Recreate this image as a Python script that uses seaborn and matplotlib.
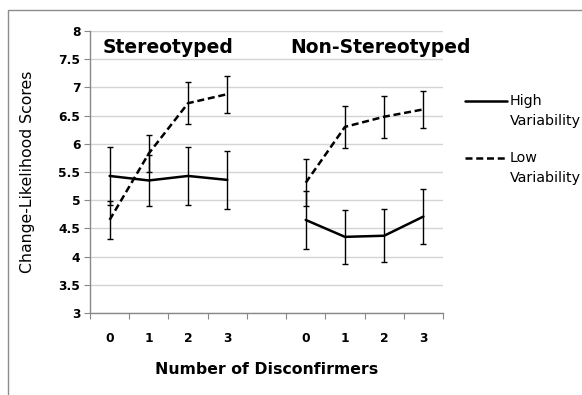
import matplotlib
matplotlib.use('Agg')
import matplotlib.pyplot as plt
from matplotlib.lines import Line2D
from matplotlib.patches import Rectangle
import pandas as pd
import seaborn as sns

# values
groups = ["Stereotyped", "Non-Stereotyped"]
disconfirmers = [0, 1, 2, 3]
variability = ["High Variability", "Low Variability"]

high_stereo = [5.43, 5.35, 5.43, 5.36]
high_stereo_err = [0.51, 0.46, 0.52, 0.52]
low_stereo = [4.65, 5.83, 6.72, 6.88]
low_stereo_err = [0.33, 0.33, 0.37, 0.33]

high_non = [4.65, 4.35, 4.37, 4.71]
high_non_err = [0.52, 0.48, 0.47, 0.49]
low_non = [5.31, 6.30, 6.48, 6.61]
low_non_err = [0.42, 0.37, 0.375, 0.33]

y_ticks = [3, 3.5, 4, 4.5, 5, 5.5, 6, 6.5, 7, 7.5, 8]


def build_frame():
	series = {
		("Stereotyped", "High Variability"): (high_stereo, high_stereo_err),
		("Stereotyped", "Low Variability"): (low_stereo, low_stereo_err),
		("Non-Stereotyped", "High Variability"): (high_non, high_non_err),
		("Non-Stereotyped", "Low Variability"): (low_non, low_non_err),
	}
	rows = []
	for (group, var), (vals, errs) in series.items():
		g = groups.index(group)
		for d, v, e in zip(disconfirmers, vals, errs):
			# one empty slot between the two groups
			rows.append({"group": group, "variability": var, "disc": d,
						 "pos": g * (len(disconfirmers) + 1) + d, "score": v, "err": e})
	return pd.DataFrame(rows)


def main():
	df = build_frame()

	sns.set_style("white")
	plt.rcParams['font.family'] = ['DejaVu Sans']
	plt.rcParams['text.color'] = 'black'
	plt.rcParams['axes.labelcolor'] = 'black'
	plt.rcParams['xtick.color'] = 'black'
	plt.rcParams['ytick.color'] = 'black'

	fig = plt.figure(figsize=(5.82, 3.95), dpi=100)
	ax = fig.add_axes([90 / 582, 1 - 313 / 395, 353 / 582, 282 / 395])

	for y in y_ticks:
		ax.axhline(y, color="#d4d4d4", lw=1, zorder=0)

	ax.errorbar(df["pos"], df["score"], yerr=df["err"], fmt="none",
				ecolor="black", elinewidth=1, capsize=2.3, capthick=1, zorder=2)

	sns.lineplot(data=df, x="pos", y="score", style="variability", units="group",
				 estimator=None, color="black", linewidth=1.8,
				 dashes={"High Variability": "", "Low Variability": (2.8, 1.5)},
				 legend=False, ax=ax, zorder=3)

	n_slots = len(groups) * (len(disconfirmers) + 1) - 1
	ax.set_xlim(-0.5, n_slots - 0.5)
	ax.set_ylim(3, 8)

	ax.set_yticks(y_ticks)
	ax.set_yticklabels([f"{t:g}" for t in y_ticks], fontsize=8.8, fontweight="bold")

	ax.set_xticks([i - 0.5 for i in range(n_slots + 1)])
	ax.set_xticklabels([])
	ax.set_xticks(df["pos"].unique(), minor=True)
	ax.set_xticklabels([str(d) for d in disconfirmers] * len(groups), minor=True,
					   fontsize=8.8, fontweight="bold")
	ax.tick_params(axis="x", which="major", bottom=True, length=4, color="#888888",
				   direction="out")
	ax.tick_params(axis="x", which="minor", bottom=True, length=0, pad=14)
	ax.tick_params(axis="y", left=True, length=4, color="#888888", direction="out", pad=3)

	for side in ["top", "right"]:
		ax.spines[side].set_visible(False)
	for side in ["left", "bottom"]:
		ax.spines[side].set_color("#888888")
		ax.spines[side].set_linewidth(1)

	ax.set_xlabel("Number of Disconfirmers", fontsize=11.3, fontweight="bold", labelpad=12)
	ax.set_ylabel("Change-Likelihood Scores", fontsize=11.3, labelpad=17)

	# group headings
	ax.text(-0.17, 7.70, groups[0], fontsize=13.5, fontweight="bold", ha="left", va="center")
	ax.text(4.6, 7.70, groups[1], fontsize=13.5, fontweight="bold", ha="left", va="center")

	# legend drawn to the right of the plot area
	for i, (label, dash) in enumerate(zip(variability, ["-", (0, (2.8, 1.5))])):
		y0 = 1 - (101 + i * 57) / 395
		fig.add_artist(Line2D([465 / 582, 507 / 582], [y0, y0], color="black",
							  lw=1.8, linestyle=dash, transform=fig.transFigure))
		word, rest = label.split(" ")
		fig.text(510 / 582, y0, word, fontsize=10.3, va="center", ha="left")
		fig.text(510 / 582, y0 - 20 / 395, rest, fontsize=10.3, va="center", ha="left")

	# outer chart border
	fig.add_artist(Rectangle((8 / 582, -0.05), 1.1, 1.05 - 10 / 395, fill=False,
							 edgecolor="#8c8c8c", lw=1, transform=fig.transFigure))

	fig.savefig("out.png", dpi=100)


if __name__ == "__main__":
	main()
